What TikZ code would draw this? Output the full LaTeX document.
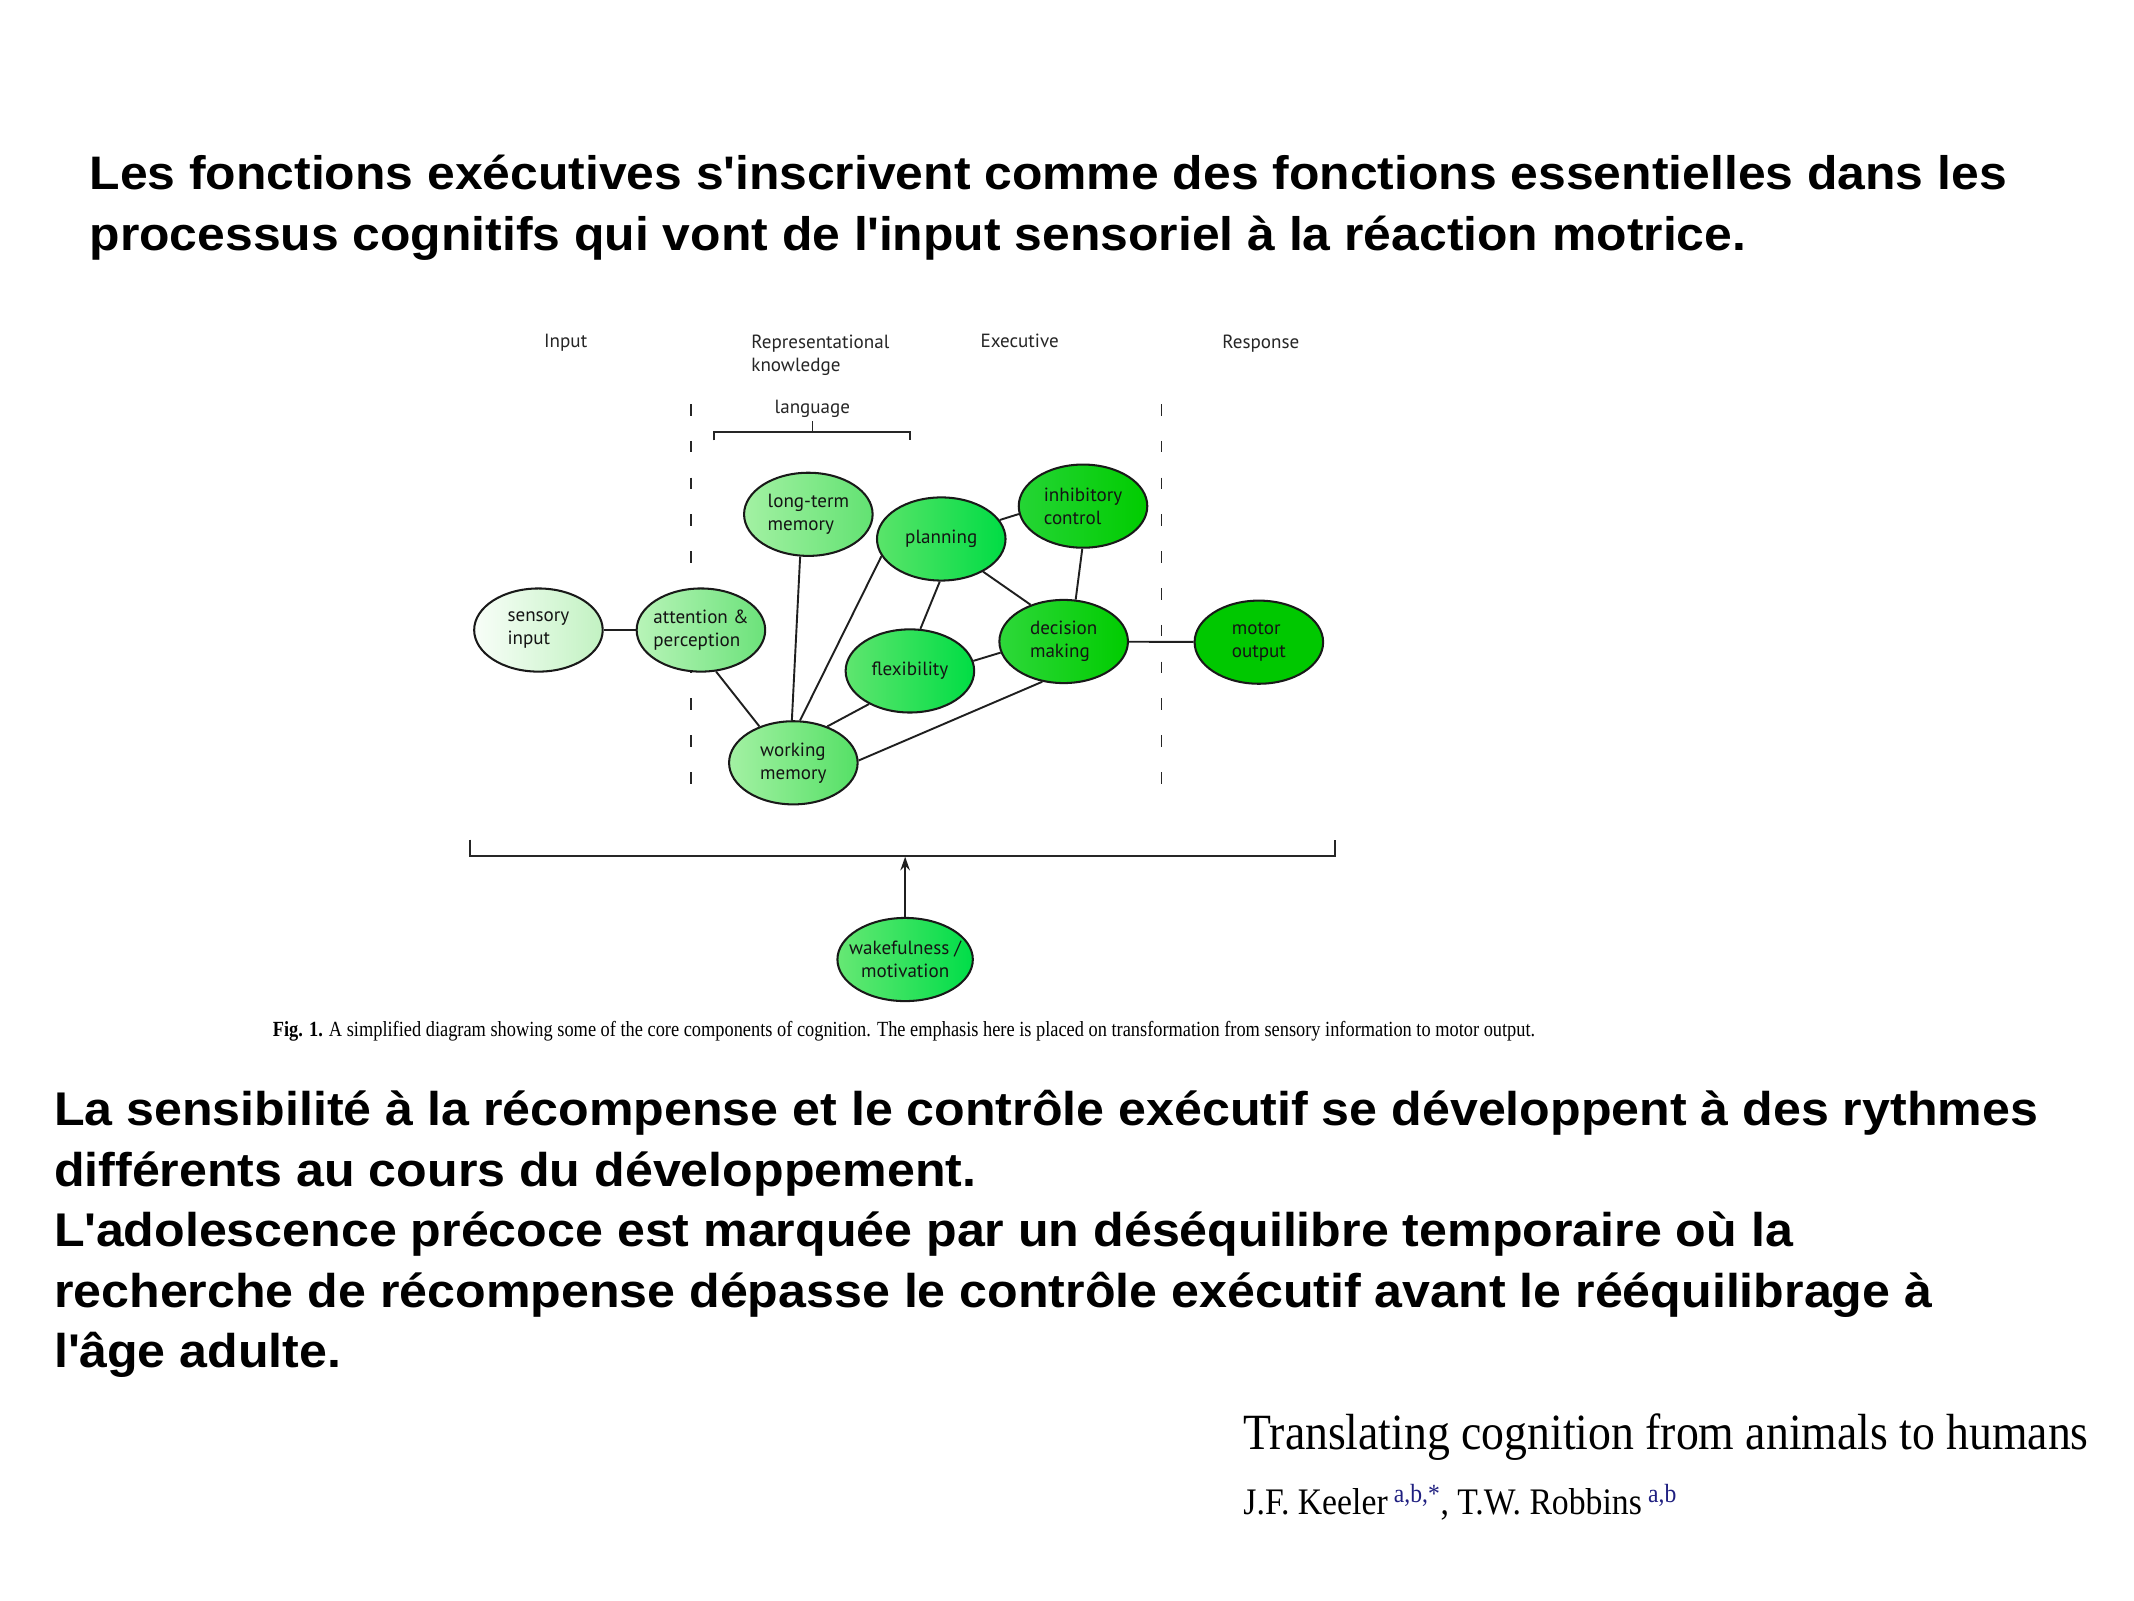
\documentclass[tikz,border=0pt]{standalone}
\usepackage{fontspec}
\setmainfont{Liberation Serif}
\newfontfamily\titlefont{Liberation Sans}[FakeStretch=1.06]
\newfontfamily\diagfont{PT Sans}
\newfontfamily\capfont{Liberation Serif}[FakeStretch=0.85]
\newfontfamily\condserif{Liberation Serif}[FakeStretch=0.9]
\usetikzlibrary{shapes.geometric,arrows.meta}
\definecolor{sensL}{HTML}{F8FEF8}\definecolor{sensR}{HTML}{C2F2C2}
\definecolor{attL}{HTML}{B8F4B8}\definecolor{attR}{HTML}{6BE27A}
\definecolor{ltmL}{HTML}{A3F1A3}\definecolor{ltmR}{HTML}{62E272}
\definecolor{wmL}{HTML}{A3F1A3}\definecolor{wmR}{HTML}{55E066}
\definecolor{planL}{HTML}{5AE46A}\definecolor{planR}{HTML}{00DC44}
\definecolor{flexL}{HTML}{5FE56F}\definecolor{flexR}{HTML}{00DD44}
\definecolor{dmL}{HTML}{2ED83A}\definecolor{dmR}{HTML}{00CC00}
\definecolor{inhL}{HTML}{25D535}\definecolor{inhR}{HTML}{00CC00}
\definecolor{motC}{HTML}{00C800}
\definecolor{wakeL}{HTML}{66E874}\definecolor{wakeR}{HTML}{00DD48}
\definecolor{authblue}{HTML}{1F1F80}
\tikzset{
  cnode/.style={ellipse, draw=black!90, line width=1.5pt, minimum width=94.3pt,
    minimum height=61pt, inner sep=-6pt, font=\diagfont\fontsize{14}{17}\selectfont,
    text=black!92, align=left},
  link/.style={line width=1.4pt, draw=black!88},
  hdr/.style={font=\diagfont\fontsize{14}{17}\selectfont, text=black!85, inner sep=0pt},
  bigtext/.style={font=\titlefont\bfseries\fontsize{34.5}{44}\selectfont, inner sep=0pt, anchor=base west},
  bigtextb/.style={font=\titlefont\bfseries\fontsize{34.7}{44}\selectfont, inner sep=0pt, anchor=base west},
  divider/.style={line width=1.3pt, draw=black!85, dash pattern=on 8.5pt off 18.5pt},
  brack/.style={line width=1.5pt, draw=black!85},
}
\begin{document}
\begin{tikzpicture}[x=1pt,y=-1pt]
\fill[white] (0,0) rectangle (1565.5,1173.8);
\useasboundingbox (0,0) rectangle (1565.5,1173.8);

% title text
\node[bigtext] (t1) at (65.5,139) {Les fonctions exécutives s\textquotesingle inscrivent comme des fonctions essentielles dans les};
\node[bigtext] (t2) at (65.5,184) {processus cognitifs qui vont de l\textquotesingle input sensoriel à la réaction motrice.};

% headers
\node[hdr, anchor=base] (hin) at (415,255) {Input};
\node[hdr, anchor=base west] (hrep1) at (551,255.5) {Representational};
\node[hdr, anchor=base west] (hrep2) at (551,272.5) {knowledge};
\node[hdr, anchor=base] (hexe) at (748,255) {Executive};
\node[hdr, anchor=base] (hres) at (925,256) {Response};
\node[hdr, anchor=base] (hlang) at (596,303) {language};

% language bracket
\draw[brack, line width=1.3pt] (524,323) -- (524,317) -- (667.5,317) -- (667.5,323);
\draw[brack, line width=1.3pt] (596,317) -- (596,309);

% dividers
\draw[divider] (507,296.4) -- (507,575);
\draw[divider] (852,296.4) -- (852,575);

% nodes
\node[cnode, left color=sensL, right color=sensR] (sens) at (395,462.2) {sensory\\input};
\node[cnode, left color=attL, right color=attR] (att) at (514.2,462.2) {attention \&\\perception};
\node[cnode, left color=ltmL, right color=ltmR] (ltm) at (593,377.3) {long-term\\memory};
\node[cnode, left color=planL, right color=planR] (plan) at (690.5,395.4) {planning};
\node[cnode, left color=inhL, right color=inhR] (inh) at (794.5,371.3) {inhibitory\\control};
\node[cnode, left color=dmL, right color=dmR] (dm) at (780.3,470.6) {decision\\making};
\node[cnode, fill=motC] (mot) at (923.5,471.1) {motor\\output};
\node[cnode, left color=flexL, right color=flexR] (flex) at (667.5,492.2) {flexibility};
\node[cnode, left color=wmL, right color=wmR] (wm) at (582,559.6) {working\\memory};
\node[cnode, left color=wakeL, right color=wakeR, minimum width=92pt, align=center] (wake) at (664,703.9) {wakefulness /\\motivation};

% connectors
\draw[link] (sens) -- (att);
\draw[link] (att.290) -- (wm.133);
\draw[link] (ltm.259) -- (wm.92);
\draw[link] (plan.196) -- (wm.81);
\draw[link] (plan.268) -- (flex.76);
\draw[link] (plan.322) -- (dm.132);
\draw[link] (plan.18) -- (inh.187);
\draw[link] (inh.269) -- (dm.74);
\draw[link] (flex.9) -- (dm.190);
\draw[link] (flex.219) -- (wm.47);
\draw[link] (wm.2) -- (dm.242);
\draw[link] (dm) -- (mot);

% lower bracket and arrow
\draw[brack] (345,616) -- (345,628) -- (979,628) -- (979,616);
\coordinate (brk) at (664,628.5);
\draw[link, -{Stealth[length=10pt,width=7pt]}] (wake.north) -- (brk);

% caption
\node[anchor=base west, inner sep=0pt] (cap) at (200,760.5) {\resizebox{926pt}{!}{\capfont\fontsize{13.5}{16}\selectfont\textbf{Fig. 1.} A simplified diagram showing some of the core components of cognition. The emphasis here is placed on transformation from sensory information to motor output.}};

% lower text
\node[bigtextb] (b1) at (39.5,826) {La sensibilité à la récompense et le contrôle exécutif se développent à des rythmes};
\node[bigtextb] (b2) at (39.5,870.3) {différents au cours du développement.};
\node[bigtextb] (b3) at (39.5,914.6) {L\textquotesingle adolescence précoce est marquée par un déséquilibre temporaire où la};
\node[bigtextb] (b4) at (39.5,958.9) {recherche de récompense dépasse le contrôle exécutif avant le rééquilibrage à};
\node[bigtextb] (b5) at (39.5,1003.2) {l\textquotesingle âge adulte.};

% reference
\node[anchor=base west, inner sep=0pt] (ptitle) at (912,1063) {\resizebox{620pt}{!}{\condserif\fontsize{34}{40}\selectfont Translating cognition from animals to humans}};
\node[anchor=base west, inner sep=0pt] (pauth) at (912,1111) {\resizebox{318pt}{!}{\condserif\fontsize{28}{34}\selectfont J.F. Keeler\,\textsuperscript{\color{authblue}a,b,*}, T.W. Robbins\,\textsuperscript{\color{authblue}a,b}}};
\end{tikzpicture}
\end{document}
